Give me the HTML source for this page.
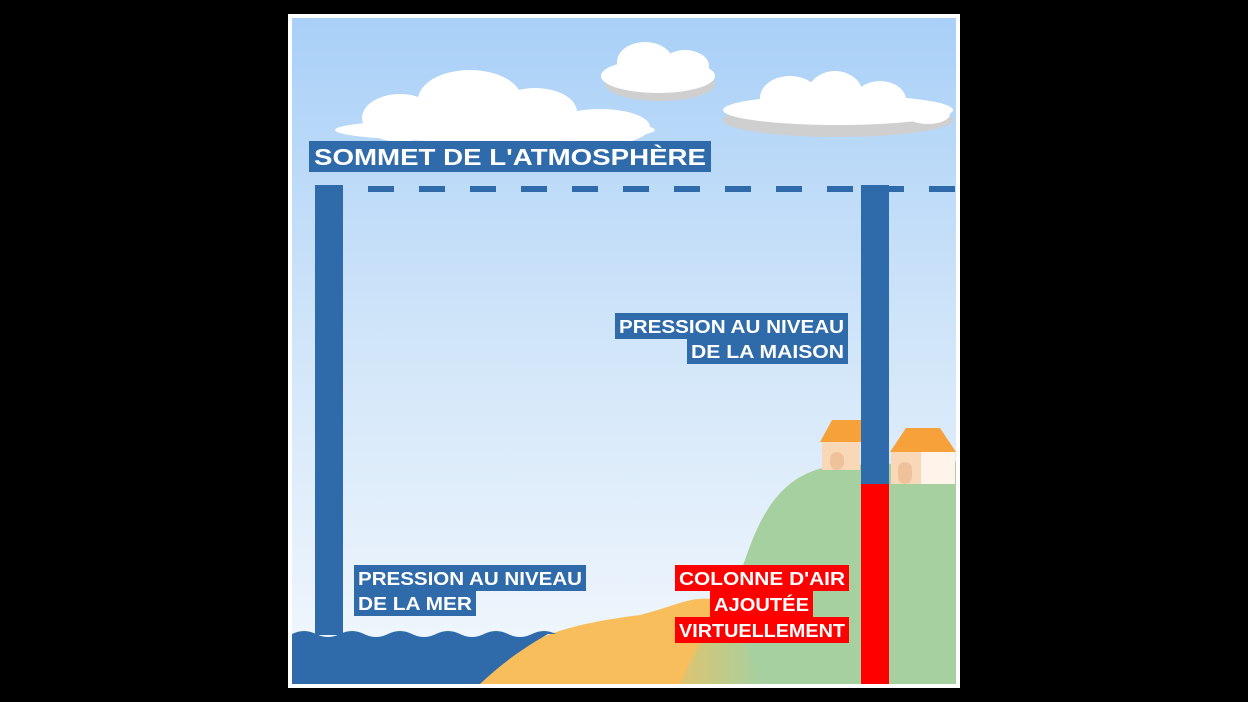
<!DOCTYPE html>
<html><head><meta charset="utf-8"><style>
html,body{margin:0;padding:0;background:#000;width:1248px;height:702px;overflow:hidden}
svg{position:absolute;left:0;top:0}
.t{font-family:"Liberation Sans",sans-serif;font-weight:bold;fill:#fff}
</style></head><body>
<svg width="1248" height="702" viewBox="0 0 1248 702">
<defs>
<linearGradient id="sky" x1="0" y1="0" x2="0" y2="1">
<stop offset="0" stop-color="#a9d0f8"/><stop offset="0.5" stop-color="#d2e6f9"/><stop offset="1" stop-color="#f3f8fd"/>
</linearGradient>
<linearGradient id="blend" x1="0" y1="0" x2="1" y2="0">
<stop offset="0" stop-color="#f7be5b"/><stop offset="1" stop-color="#a6d09f"/>
</linearGradient>
<clipPath id="cp"><rect x="292" y="18" width="664" height="666"/></clipPath>
</defs>
<rect x="288" y="14" width="672" height="674" fill="#fff"/>
<g clip-path="url(#cp)">
<rect x="292" y="18" width="664" height="666" fill="url(#sky)"/>
<!-- clouds -->
<g fill="#fff">
<ellipse cx="495" cy="130" rx="160" ry="12"/>
<ellipse cx="400" cy="118" rx="38" ry="24"/>
<ellipse cx="470" cy="100" rx="52" ry="30"/>
<ellipse cx="535" cy="112" rx="42" ry="24"/>
<ellipse cx="600" cy="127" rx="50" ry="18"/>
</g>
<g>
<ellipse cx="660" cy="84" rx="55" ry="17" fill="#cfcfcf"/>
<ellipse cx="658" cy="76" rx="57" ry="17" fill="#fff"/>
<ellipse cx="645" cy="62" rx="28" ry="20" fill="#fff"/>
<ellipse cx="685" cy="66" rx="24" ry="16" fill="#fff"/>
</g>
<g>
<ellipse cx="838" cy="120" rx="115" ry="17" fill="#cfcfcf"/>
<ellipse cx="838" cy="110" rx="115" ry="15" fill="#fff"/>
<ellipse cx="790" cy="98" rx="30" ry="22" fill="#fff"/>
<ellipse cx="835" cy="95" rx="28" ry="24" fill="#fff"/>
<ellipse cx="880" cy="100" rx="26" ry="19" fill="#fff"/>
<ellipse cx="928" cy="114" rx="22" ry="10" fill="#fff"/>
</g>
<!-- dashed line -->
<line x1="368" y1="189" x2="956" y2="189" stroke="#2f6aaa" stroke-width="6" stroke-dasharray="26 25"/>
<!-- sand -->
<path d="M465,684 C520,640 560,625 640,615 C680,605 690,595 720,600 L760,684 Z" fill="#f7be5b"/>
<!-- hill -->
<path d="M680,684 C700,640 730,600 745,560 C765,500 790,470 840,465 L956,462 L956,684 Z" fill="#a6d09f"/>
<path d="M680,684 L700,630 L745,640 L760,684 Z" fill="url(#blend)" opacity="0.7"/>
<!-- houses -->
<g>
<rect x="822" y="440" width="38" height="30" fill="#f9d8b8"/>
<path d="M820,442 L832,420 L862,420 L862,442 Z" fill="#f7a13a"/>
<rect x="830" y="452" width="14" height="18" rx="7" fill="#f0c29b"/>
<rect x="891" y="450" width="64" height="34" fill="#fff3ea"/>
<rect x="891" y="450" width="30" height="34" fill="#f9d8b8"/>
<path d="M890,452 L906,428 L940,428 L956,452 Z" fill="#f7a13a"/>
<rect x="898" y="462" width="14" height="22" rx="7" fill="#f0c29b"/>
</g>
<!-- water -->
<path d="M292,634 q12,-6 24,0 t24,0 t24,0 t24,0 t24,0 t24,0 t24,0 t24,0 t24,0 t24,0 t24,0 L548,634 C520,650 500,665 480,684 L292,684 Z" fill="#2f6aaa"/>
<!-- columns -->
<rect x="315" y="185" width="28" height="450" fill="#2f6aaa"/>
<rect x="861" y="185" width="28" height="300" fill="#2f6aaa"/>
<rect x="861" y="484" width="28" height="200" fill="#ff0000"/>
</g>
<!-- labels -->
<rect x="309" y="141" width="402" height="31" fill="#2f6aaa"/>
<text class="t" x="314" y="165" font-size="23" textLength="392" lengthAdjust="spacingAndGlyphs">SOMMET DE L'ATMOSPHÈRE</text>
<rect x="615" y="313" width="233" height="26" fill="#2f6aaa"/>
<rect x="687" y="339" width="161" height="25" fill="#2f6aaa"/>
<text class="t" x="619" y="333" font-size="18" textLength="225" lengthAdjust="spacingAndGlyphs">PRESSION AU NIVEAU</text>
<text class="t" x="691" y="358" font-size="18" textLength="153" lengthAdjust="spacingAndGlyphs">DE LA MAISON</text>
<rect x="354" y="565" width="232" height="26" fill="#2f6aaa"/>
<rect x="354" y="591" width="122" height="25" fill="#2f6aaa"/>
<text class="t" x="358" y="585" font-size="18" textLength="224" lengthAdjust="spacingAndGlyphs">PRESSION AU NIVEAU</text>
<text class="t" x="358" y="610" font-size="18" textLength="114" lengthAdjust="spacingAndGlyphs">DE LA MER</text>
<rect x="675" y="565" width="174" height="26" fill="#ff0000"/>
<rect x="710" y="591" width="103" height="26" fill="#ff0000"/>
<rect x="675" y="617" width="174" height="26" fill="#ff0000"/>
<text class="t" x="679" y="585" font-size="18" textLength="166" lengthAdjust="spacingAndGlyphs">COLONNE D'AIR</text>
<text class="t" x="714" y="611" font-size="18" textLength="95" lengthAdjust="spacingAndGlyphs">AJOUTÉE</text>
<text class="t" x="679" y="637" font-size="18" textLength="166" lengthAdjust="spacingAndGlyphs">VIRTUELLEMENT</text>
</svg>
</body></html>
